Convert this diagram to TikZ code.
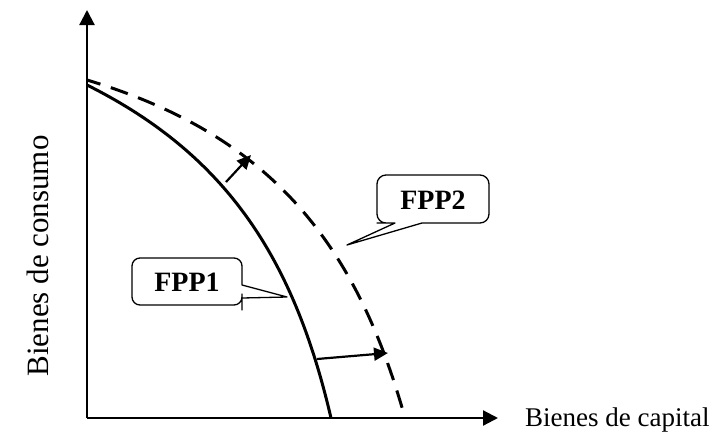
\documentclass[tikz,border=0pt]{standalone}
\usepackage{fontspec}
\setmainfont{Liberation Serif}
\usetikzlibrary{arrows.meta}
\begin{document}
\begin{tikzpicture}[x=1pt,y=-1pt,
  axis/.style={line width=2.2pt,-{Triangle[length=15pt,width=15pt]}},
  shift arrow/.style={line width=2.2pt,-{Triangle[length=14pt,width=13pt]}},
  frontier/.style={line width=3pt},
  frontier2/.style={line width=3pt,dash pattern=on 18pt off 11pt,dash phase=4pt},
  callout/.style={line width=1.3pt,line join=round},
  lab/.style={font=\fontsize{28}{28}\selectfont\bfseries,inner sep=0pt},
  axlab/.style={inner sep=0pt}]
\useasboundingbox (0,0) rectangle (710,437);
\coordinate (O) at (87,418);
\coordinate (Ytop) at (87,10);
\coordinate (Xend) at (498,418);
\draw[axis] (O) -- (Ytop);
\draw[axis] (O) -- (Xend);
% frontiers
\coordinate (A1) at (87,85);
\coordinate (B1) at (331,418);
\coordinate (A2) at (87,80);
\coordinate (B2) at (405,418);
\draw[frontier] (A1) .. controls (227,155) and (294,259) .. (B1);
\draw[frontier2] (A2) .. controls (267,134) and (355,239) .. (B2);
% shift arrows
\coordinate (s1) at (226,182);
\coordinate (e1) at (251,155);
\coordinate (s2) at (317,359);
\coordinate (e2) at (388,353);
\draw[shift arrow] (s1) -- (e1);
\draw[shift arrow] (s2) -- (e2);
% callout FPP1
\coordinate (t1) at (287,297);
\draw[callout] (242,285) -- (242,270) [rounded corners=8pt] -- (242,258) -- (132,258) -- (132,305) -- (242,305) -- (242,302) [sharp corners] -- (242,298) -- (t1) -- cycle;
\node[lab] (fpp1) at (187,282) {FPP1};
% callout FPP2
\coordinate (t2) at (347,245);
\draw[callout] (422,223) -- (432,223) [rounded corners=9pt] -- (489,223) -- (489,175) -- (377,175) -- (377,223) -- (386,223) [sharp corners] -- (395,223) -- (t2) -- cycle;
\node[lab] (fpp2) at (433,200) {FPP2};
% axis labels
\node[axlab,rotate=90,anchor=base,font=\fontsize{31}{31}\selectfont] (ylab) at (48,256) {Bienes de consumo};
\node[axlab,anchor=base west,font=\fontsize{27}{27}\selectfont] (xlab) at (525,426.5) {Bienes de capital};
\end{tikzpicture}
\end{document}
